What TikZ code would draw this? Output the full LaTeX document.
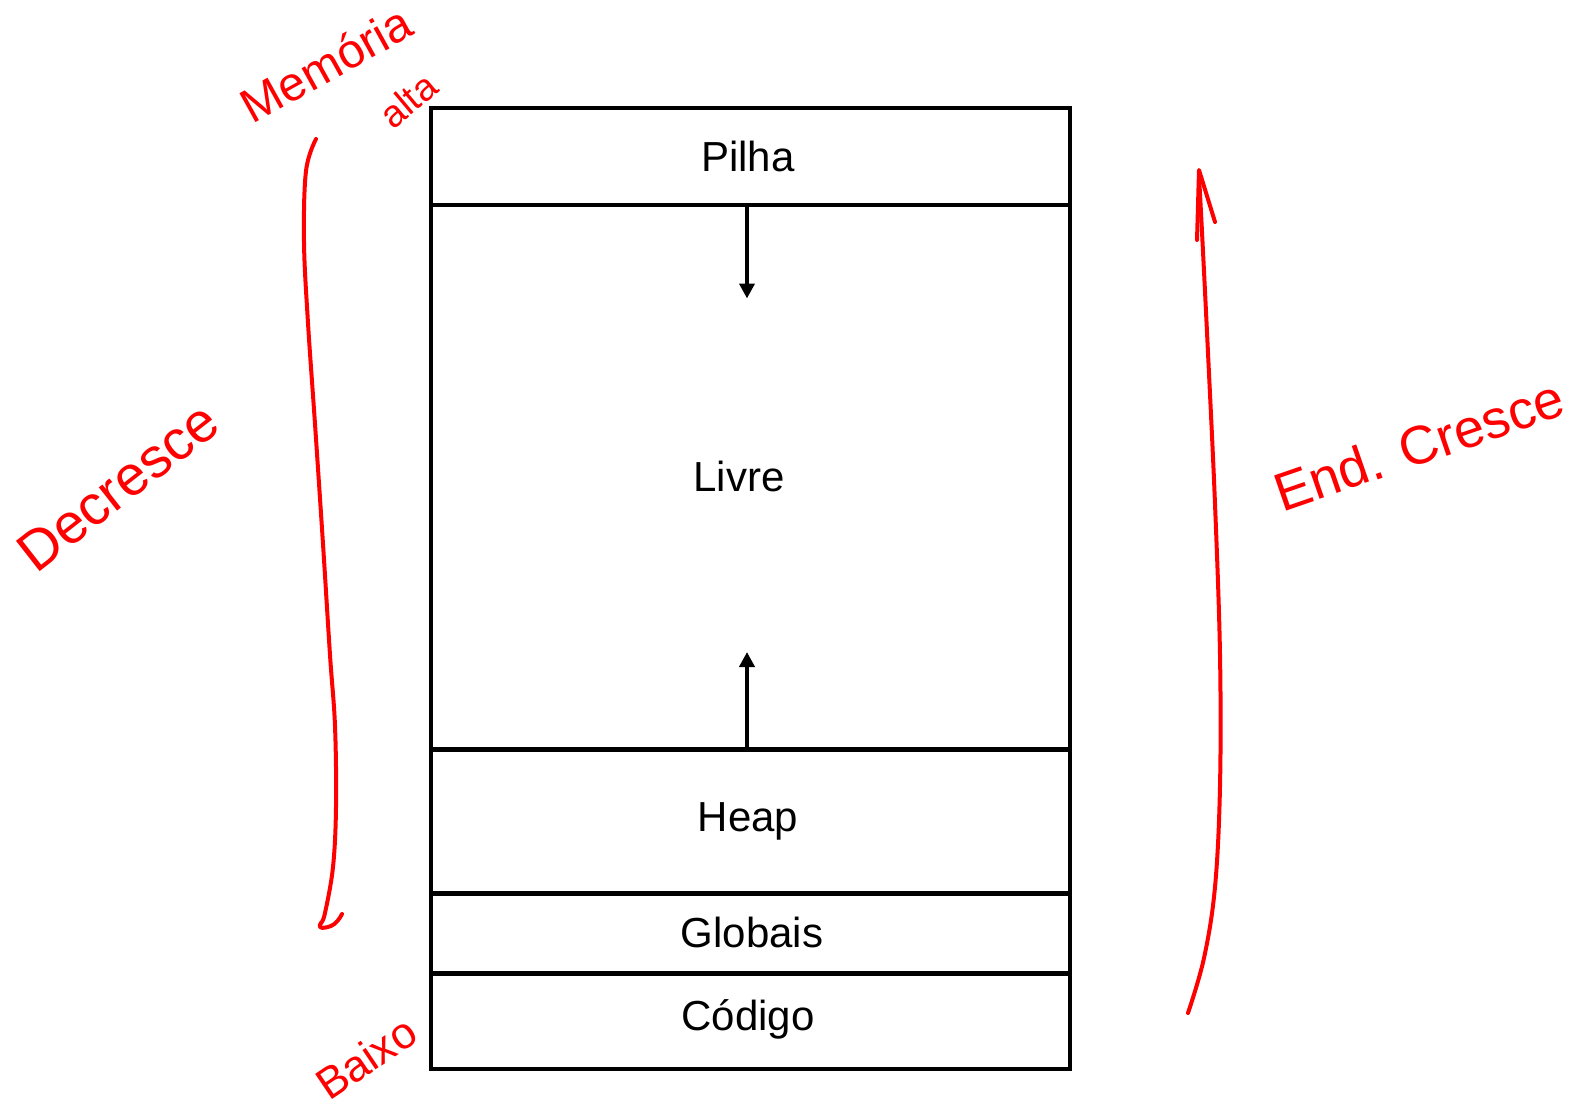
\documentclass[tikz,border=0pt]{standalone}
\usepackage{fontspec}
\setmainfont{Liberation Sans}
\usetikzlibrary{arrows.meta}
\begin{document}
\begin{tikzpicture}[x=1pt,y=1pt,
  region/.style={draw=black,line width=4.5pt,minimum width=639.3pt,inner sep=0pt,anchor=north west},
  lbl/.style={font=\fontsize{42}{50}\selectfont,inner sep=0pt},
  hand/.style={text=red,font=\fontsize{#1}{#1}\selectfont,inner sep=0pt},
  redline/.style={draw=red,line width=4pt,line cap=round,line join=round},
  blk/.style={line width=4pt,-{Triangle[length=15pt,width=15pt]}}]
\useasboundingbox[fill=white] (0,0) rectangle (1581,-1105);
% regions
\node[region,minimum height=96.8pt] (pilha) at (428.5,-105.9) {};
\node[region,minimum height=544.4pt] (livre) at (428.5,-202.7) {};
\node[region,minimum height=144.2pt] (heap) at (428.5,-747.1) {};
\node[region,minimum height=79.7pt] (globais) at (428.5,-891.3) {};
\node[region,minimum height=95.8pt] (codigo) at (428.5,-971) {};
% labels
\node[lbl] (tpilha) at (748,-156) {Pilha};
\node[lbl] (tlivre) at (739,-476) {Livre};
\node[lbl] (theap) at (748,-821) {Heap};
\node[lbl] (tglobais) at (752,-932) {Globais};
\node[lbl] (tcodigo) at (748,-1019) {Código};
% arrows
\coordinate (downend) at (747,-298.5);
\coordinate (upend) at (747,-652);
\draw[blk] (pilha.south -| downend) -- (downend);
\draw[blk] (heap.north -| upend) -- (upend);
% red annotations
\node[hand=48,rotate=29] (memoria) at (326,-64) {Memória};
\node[hand=38,rotate=40] (alta) at (408,-100) {alta};
\node[hand=56,rotate=38] (decresce) at (118,-487) {Decresce};
\node[hand=54,rotate=19] (cresce) at (1419,-445) {End. Cresce};
\node[hand=44,rotate=34] (baixo) at (366,-1058) {Baixo};
\draw[redline] plot[smooth,tension=0.6] coordinates {(316,-139) (306,-171) (304,-242) (308,-323) (315,-424) (323,-544) (330,-655) (335,-726) (336,-807) (333,-867) (325,-913) (321,-923)};
\draw[redline] (321,-923) .. controls (316,-930) and (326,-928) .. (331,-926) .. controls (336,-924) and (340,-918) .. (342,-914);
\draw[redline] plot[smooth,tension=0.6] coordinates {(1188,-1013) (1204,-958) (1215,-887) (1220,-786) (1220,-655) (1215,-504) (1208,-353) (1202,-232) (1199,-176)};
\draw[redline] (1197,-240) -- (1199,-170) -- (1215,-222);
\end{tikzpicture}
\end{document}
